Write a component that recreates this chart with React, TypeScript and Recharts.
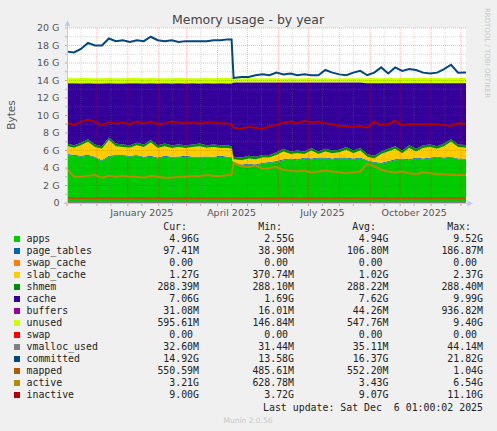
import React from 'react';
import { ComposedChart, Area, Line, XAxis, YAxis, CartesianGrid, ReferenceLine } from 'recharts';

// days since Nov 1 2024 (munin "by year" = 400 days)
const days = [
  0, 7, 14, 21, 28, 35, 42, 49, 56, 63,
  70, 77, 84, 91, 98, 105, 112, 119, 126, 133,
  140, 147, 154, 161, 165, 167, 175, 182, 189, 196,
  203, 210, 217, 224, 231, 238, 245, 252, 259, 266,
  273, 280, 287, 294, 301, 308, 315, 322, 329, 336,
  343, 350, 357, 364, 371, 378, 385, 392, 400,
];

// values in GB
const apps = [
  5.5, 5.4, 5.3, 5.4, 5.2, 4.8, 5.3, 5.4, 5.4, 5.3,
  5.4, 5.2, 5.3, 5.1, 5.3, 5.2, 5.2, 5.3, 5.2, 5.2,
  5.2, 5.2, 5.3, 5.2, 5.2, 4.4, 4.3, 4.4, 4.3, 4.5,
  4.6, 4.7, 4.9, 5.0, 4.9, 5.1, 5.0, 5.1, 5.1, 5.0,
  5.1, 5.1, 5.0, 5.1, 4.8, 4.6, 4.5, 4.7, 4.9, 5.0,
  4.9, 5.1, 5.0, 5.1, 5.2, 5.1, 5.2, 5.0, 4.96,
];
const pageTables = [
  0.11, 0.11, 0.1, 0.11, 0.1, 0.1, 0.11, 0.1, 0.1, 0.11,
  0.1, 0.1, 0.11, 0.1, 0.1, 0.1, 0.11, 0.1, 0.1, 0.1,
  0.11, 0.1, 0.1, 0.1, 0.1, 0.1, 0.1, 0.1, 0.1, 0.1,
  0.1, 0.1, 0.1, 0.1, 0.1, 0.1, 0.1, 0.1, 0.1, 0.1,
  0.1, 0.1, 0.1, 0.1, 0.1, 0.1, 0.1, 0.1, 0.1, 0.1,
  0.1, 0.1, 0.1, 0.1, 0.1, 0.1, 0.1, 0.1, 0.097,
];
const swapCache = [
  0, 0, 0, 0, 0, 0, 0, 0, 0, 0,
  0, 0, 0, 0, 0, 0, 0, 0, 0, 0,
  0, 0, 0, 0, 0, 0, 0, 0, 0, 0,
  0, 0, 0, 0, 0, 0, 0, 0, 0, 0,
  0, 0, 0, 0, 0, 0, 0, 0, 0, 0,
  0, 0, 0, 0, 0, 0, 0, 0, 0,
];
const slabCache = [
  0.9, 0.8, 1.2, 1.5, 1.1, 1.3, 1.8, 1.0, 0.9, 0.9,
  1.1, 1.1, 1.5, 1.1, 1.1, 1.0, 1.1, 0.9, 1.1, 1.2,
  1.0, 1.1, 0.9, 1.0, 0.9, 0.5, 0.5, 0.6, 0.6, 0.6,
  0.5, 0.7, 0.9, 0.5, 0.7, 0.4, 0.9, 0.4, 0.7, 0.6,
  0.6, 0.9, 0.6, 0.8, 0.4, 0.4, 1.0, 1.1, 1.2, 0.6,
  1.3, 0.7, 1.2, 1.2, 0.9, 1.3, 1.7, 1.3, 1.27,
];
const shmem = [
  0.29, 0.29, 0.29, 0.29, 0.29, 0.29, 0.29, 0.29, 0.29, 0.29,
  0.29, 0.29, 0.29, 0.29, 0.29, 0.29, 0.29, 0.29, 0.29, 0.29,
  0.29, 0.29, 0.29, 0.29, 0.29, 0.29, 0.29, 0.29, 0.29, 0.29,
  0.29, 0.29, 0.29, 0.29, 0.29, 0.29, 0.29, 0.29, 0.29, 0.29,
  0.29, 0.29, 0.29, 0.29, 0.29, 0.29, 0.29, 0.29, 0.29, 0.29,
  0.29, 0.29, 0.29, 0.29, 0.29, 0.29, 0.29, 0.29, 0.29,
];
const cache = [
  6.87, 7.07, 6.77, 6.37, 6.97, 7.17, 6.17, 6.87, 6.97, 7.07,
  6.77, 6.97, 6.47, 7.07, 6.87, 7.07, 6.97, 7.07, 6.97, 6.87,
  7.07, 6.97, 7.07, 7.07, 7.17, 8.47, 8.57, 8.37, 8.47, 8.27,
  8.27, 7.97, 7.57, 7.87, 7.77, 7.87, 7.47, 7.87, 7.57, 7.77,
  7.67, 7.37, 7.77, 7.47, 8.09, 8.29, 7.79, 7.49, 7.19, 7.69,
  7.09, 7.49, 7.09, 6.99, 7.19, 6.89, 6.39, 6.99, 7.06,
];
const buffers = [
  0.05, 0.04, 0.04, 0.05, 0.04, 0.04, 0.05, 0.04, 0.04, 0.04,
  0.05, 0.04, 0.04, 0.04, 0.05, 0.04, 0.04, 0.04, 0.05, 0.04,
  0.04, 0.04, 0.05, 0.04, 0.04, 0.04, 0.04, 0.05, 0.04, 0.04,
  0.04, 0.05, 0.04, 0.04, 0.04, 0.05, 0.04, 0.04, 0.04, 0.05,
  0.04, 0.04, 0.04, 0.05, 0.04, 0.04, 0.04, 0.05, 0.04, 0.04,
  0.04, 0.05, 0.04, 0.04, 0.04, 0.04, 0.04, 0.03, 0.03,
];
const unused = [
  0.57, 0.56, 0.58, 0.57, 0.56, 0.57, 0.58, 0.57, 0.56, 0.57,
  0.58, 0.56, 0.57, 0.57, 0.56, 0.57, 0.58, 0.57, 0.56, 0.57,
  0.57, 0.56, 0.57, 0.58, 0.57, 0.45, 0.44, 0.46, 0.45, 0.44,
  0.45, 0.46, 0.44, 0.45, 0.43, 0.45, 0.46, 0.44, 0.45, 0.43,
  0.44, 0.46, 0.45, 0.44, 0.55, 0.56, 0.54, 0.56, 0.55, 0.57,
  0.56, 0.55, 0.57, 0.58, 0.56, 0.55, 0.57, 0.59, 0.6,
];
const swap = [
  0, 0, 0, 0, 0, 0, 0, 0, 0, 0,
  0, 0, 0, 0, 0, 0, 0, 0, 0, 0,
  0, 0, 0, 0, 0, 0, 0, 0, 0, 0,
  0, 0, 0, 0, 0, 0, 0, 0, 0, 0,
  0, 0, 0, 0, 0, 0, 0, 0, 0, 0,
  0, 0, 0, 0, 0, 0, 0, 0, 0,
];
const vmallocUsed = [
  0.035, 0.035, 0.035, 0.035, 0.035, 0.035, 0.035, 0.035, 0.035, 0.035,
  0.035, 0.035, 0.035, 0.035, 0.035, 0.035, 0.035, 0.035, 0.035, 0.035,
  0.035, 0.035, 0.035, 0.035, 0.035, 0.033, 0.033, 0.033, 0.033, 0.033,
  0.033, 0.033, 0.033, 0.033, 0.033, 0.033, 0.033, 0.033, 0.033, 0.033,
  0.033, 0.033, 0.033, 0.033, 0.033, 0.033, 0.033, 0.033, 0.033, 0.033,
  0.033, 0.033, 0.033, 0.033, 0.033, 0.033, 0.033, 0.033, 0.033,
];
const committed = [
  17.3, 17.2, 17.6, 18.3, 18.0, 18.0, 18.8, 18.5, 18.6, 18.4,
  18.6, 18.5, 19.0, 18.6, 18.5, 18.6, 18.4, 18.5, 18.5, 18.5,
  18.5, 18.6, 18.6, 18.7, 18.7, 14.3, 14.4, 14.4, 14.6, 14.7,
  14.6, 14.9, 14.7, 14.8, 14.6, 14.7, 14.6, 14.6, 15.2, 14.9,
  14.7, 14.6, 14.9, 15.1, 14.6, 14.9, 15.5, 14.8, 15.5, 15.1,
  15.3, 15.2, 14.9, 14.8, 14.9, 15.3, 15.8, 14.9, 14.92,
];
const mapped = [
  0.56, 0.55, 0.54, 0.56, 0.55, 0.53, 0.55, 0.56, 0.54, 0.55,
  0.56, 0.55, 0.54, 0.56, 0.55, 0.54, 0.55, 0.56, 0.55, 0.54,
  0.55, 0.56, 0.55, 0.55, 0.55, 0.56, 0.55, 0.56, 0.55, 0.55,
  0.56, 0.55, 0.55, 0.56, 0.55, 0.55, 0.56, 0.55, 0.55, 0.55,
  0.56, 0.55, 0.55, 0.55, 0.56, 0.55, 0.55, 0.56, 0.55, 0.55,
  0.55, 0.56, 0.55, 0.55, 0.55, 0.56, 0.55, 0.55, 0.55,
];
const active = [
  3.9, 3.0, 3.0, 3.1, 3.2, 2.9, 3.1, 3.0, 3.1, 3.0,
  3.0, 2.9, 3.1, 3.0, 2.9, 2.9, 3.0, 3.0, 3.1, 3.1,
  3.2, 3.1, 3.1, 3.2, 3.2, 4.6, 4.2, 4.1, 4.3, 3.9,
  4.0, 4.1, 3.8, 3.7, 3.6, 3.7, 3.5, 3.6, 3.7, 3.6,
  3.5, 3.4, 3.5, 3.6, 4.5, 4.2, 3.8, 3.6, 3.5, 3.6,
  3.4, 3.3, 3.5, 3.4, 3.3, 3.3, 3.2, 3.2, 3.21,
];
const inactive = [
  9.2, 8.9, 9.3, 9.5, 9.3, 8.9, 9.2, 9.1, 9.2, 9.0,
  9.3, 9.1, 9.3, 9.0, 9.1, 9.3, 9.2, 9.1, 9.2, 9.1,
  9.2, 9.2, 9.1, 9.1, 9.0, 8.6, 8.5, 8.7, 8.6, 8.5,
  8.8, 8.9, 9.2, 9.3, 9.1, 9.4, 9.2, 9.3, 9.1, 9.0,
  8.8, 8.8, 8.7, 8.8, 8.6, 9.3, 8.9, 9.0, 9.4, 8.9,
  9.0, 9.0, 9.0, 9.0, 9.0, 8.9, 8.8, 9.1, 9.0,
];

const seriesNames = [
  'apps', 'page_tables', 'swap_cache', 'slab_cache', 'shmem', 'cache', 'buffers',
  'unused', 'swap', 'vmalloc_used', 'committed', 'mapped', 'active', 'inactive',
];
const seriesColors = [
  '#00CC00', '#0066B3', '#FF8000', '#FFCC00', '#008F00', '#330099', '#990099',
  '#CCFF00', '#FF0000', '#808080', '#00487D', '#B35A00', '#B38F00', '#B30000',
];
const curStats = ['4.96G', '97.41M', '0.00', '1.27G', '288.39M', '7.06G', '31.08M', '595.61M', '0.00', '32.60M', '14.92G', '550.59M', '3.21G', '9.00G'];
const minStats = ['2.55G', '38.90M', '0.00', '370.74M', '288.10M', '1.69G', '16.01M', '146.84M', '0.00', '31.44M', '13.58G', '485.61M', '628.78M', '3.72G'];
const avgStats = ['4.94G', '106.80M', '0.00', '1.02G', '288.22M', '7.62G', '44.26M', '547.76M', '0.00', '35.11M', '16.37G', '552.20M', '3.43G', '9.07G'];
const maxStats = ['9.52G', '186.87M', '0.00', '2.37G', '288.40M', '9.99G', '936.82M', '9.40G', '0.00', '44.14M', '21.82G', '1.04G', '6.54G', '11.10G'];

const monthStarts = [0, 30, 61, 92, 120, 151, 181, 212, 242, 273, 304, 334, 365, 395];
const midMonths = [14, 44, 75, 106, 134, 165, 195, 226, 256, 287, 318, 348, 379];
const labelDays = [75, 165, 256, 348];
const labelNames = ['January 2025', 'April 2025', 'July 2025', 'October 2025'];
const yTicks = [0, 1, 2, 3, 4, 5, 6, 7, 8, 9, 10, 11, 12, 13, 14, 15, 16, 17, 18, 19, 20];

const keys = ['apps', 'pageTables', 'swapCache', 'slabCache', 'shmem', 'cache', 'buffers', 'unused', 'swap', 'vmallocUsed', 'committed', 'mapped', 'active', 'inactive'];
const cols = [apps, pageTables, swapCache, slabCache, shmem, cache, buffers, unused, swap, vmallocUsed, committed, mapped, active, inactive];

const data = days.map((day, i) => {
  const row: Record<string, number> = { day };
  keys.forEach((k, j) => { row[k] = cols[j][i]; });
  return row;
});

const SANS = 'DejaVu Sans, sans-serif';
const MONO = 'DejaVu Sans Mono, monospace';
const MAJOR = '#ff0000';
const MINOR = '#808080';

const XTick = (props: any) => {
  const { x, y, payload } = props;
  const v = payload.value;
  const isMonth = monthStarts.includes(v);
  const li = labelDays.indexOf(v);
  return (
    <g>
      <line x1={x} x2={x} y1={y} y2={y + 3} stroke={isMonth ? '#f09090' : '#b8b8b8'} />
      {li >= 0 && (
        <text x={x} y={y + 13} textAnchor="middle" fontSize={9.5} fill="#555" fontFamily={SANS}>
          {labelNames[li]}
        </text>
      )}
    </g>
  );
};

const YTick = (props: any) => {
  const { x, y, payload } = props;
  const v = payload.value;
  const major = v % 2 === 0;
  return (
    <g>
      <line x1={x - 2} x2={x} y1={y} y2={y} stroke={major ? '#f09090' : '#b8b8b8'} />
      {major && (
        <text x={x - 7.5} y={y + 3.4} textAnchor="end" fontSize={9.5} fill="#555" fontFamily={SANS}>
          {v === 0 ? '0' : `${v} G`}
        </text>
      )}
    </g>
  );
};

const pad = (s: string) => (/[A-Za-z]$/.test(s) ? s : s + '\u00a0');

export default function App() {
  const areaKeys = keys.slice(0, 9);
  const lineKeys = keys.slice(9);
  return (
    <div style={{ position: 'absolute', left: 0, top: 0, width: 497, height: 431, background: '#f0f0f0', overflow: 'hidden' }}>
      <ComposedChart width={497} height={220} data={data} margin={{ top: 28, right: 31, bottom: 0, left: 0 }}>
        <CartesianGrid fill="#ffffff" horizontal={false} vertical={false} stroke="none" />
        <XAxis
          dataKey="day"
          type="number"
          domain={[0, 400]}
          ticks={[...monthStarts, ...midMonths].sort((a, b) => a - b)}
          interval={0}
          height={17}
          axisLine={false}
          tickLine={false}
          tickSize={0}
          tickMargin={0}
          tick={<XTick />}
        />
        <YAxis
          type="number"
          domain={[0, 20]}
          ticks={yTicks}
          interval={0}
          width={67}
          axisLine={false}
          tickLine={false}
          tickSize={0}
          tickMargin={0}
          tick={<YTick />}
          allowDataOverflow
        />
        {areaKeys.map((k, j) => (
          <Area
            key={k}
            dataKey={k}
            stackId="mem"
            type="linear"
            fill={seriesColors[j]}
            fillOpacity={1}
            stroke="none"
            isAnimationActive={false}
            dot={false}
            activeDot={false}
          />
        ))}
        {yTicks.filter((v) => v > 0).map((v) => (
          <ReferenceLine key={`h${v}`} y={v} stroke={v % 2 === 0 ? MAJOR : MINOR} strokeOpacity={0.3} strokeDasharray="1 1" />
        ))}
        {midMonths.map((d) => (
          <ReferenceLine key={`m${d}`} x={d} stroke={MINOR} strokeOpacity={0.3} strokeDasharray="1 1" />
        ))}
        {monthStarts.filter((d) => d > 0).map((d) => (
          <ReferenceLine key={`s${d}`} x={d} stroke={MAJOR} strokeOpacity={0.28} strokeDasharray="1 1" />
        ))}
        {lineKeys.map((k, j) => (
          <Line
            key={k}
            dataKey={k}
            type="linear"
            stroke={seriesColors[9 + j]}
            strokeWidth={2}
            dot={false}
            activeDot={false}
            isAnimationActive={false}
          />
        ))}
      </ComposedChart>
      <svg width={497} height={431} style={{ position: 'absolute', left: 0, top: 0, pointerEvents: 'none' }}>
        <text x={248} y={23.5} textAnchor="middle" fontSize={12.5} fill="#444" fontFamily={SANS}>
          Memory usage - by year
        </text>
        <text
          x={11}
          y={115}
          transform="rotate(-90 11 115)"
          textAnchor="middle"
          dominantBaseline="central"
          fontSize={10.5}
          fill="#555"
          fontFamily={SANS}
        >
          Bytes
        </text>
        <text
          x={487}
          y={53}
          transform="rotate(90 487 53)"
          textAnchor="middle"
          dominantBaseline="central"
          fontSize={7}
          fill="#c8c8c8"
          fontFamily={SANS}
        >
          RRDTOOL / TOBI OETIKER
        </text>
        {/* axes with arrows */}
        <line x1={67.5} x2={67.5} y1={203.5} y2={24} stroke="#c4c8ee" />
        <polygon points="64.5,26 70.5,26 67.5,20.5" fill="#c4c8ee" />
        <line x1={64} x2={469} y1={203.5} y2={203.5} stroke="#c4c8ee" />
        <polygon points="467.5,200.5 467.5,206.5 473,203.5" fill="#c4c8ee" />

        {/* legend */}
        <g fontFamily={MONO} fontSize={9.9} fill="#222">
          <text x={187} y={230.3} textAnchor="end">Cur:</text>
          <text x={282} y={230.3} textAnchor="end">Min:</text>
          <text x={376} y={230.3} textAnchor="end">Avg:</text>
          <text x={471} y={230.3} textAnchor="end">Max:</text>
          {seriesNames.map((name, i) => {
            const by = 242.3 + 12 * i;
            return (
              <g key={name}>
                <rect x={14} y={by - 6.3} width={6} height={6} fill={seriesColors[i]} />
                <text x={26.5} y={by}>{name}</text>
                <text x={199} y={by} textAnchor="end">{pad(curStats[i])}</text>
                <text x={294} y={by} textAnchor="end">{pad(minStats[i])}</text>
                <text x={388.5} y={by} textAnchor="end">{pad(avgStats[i])}</text>
                <text x={483} y={by} textAnchor="end">{pad(maxStats[i])}</text>
              </g>
            );
          })}
          <text x={483} y={410.5} textAnchor="end">
            {'Last update: Sat Dec\u00a0\u00a06 01:00:02 2025'}
          </text>
        </g>
        <text x={248} y={422.5} textAnchor="middle" fontSize={7.5} fill="#c8c8c8" fontFamily={SANS}>
          Munin 2.0.56
        </text>
      </svg>
    </div>
  );
}
